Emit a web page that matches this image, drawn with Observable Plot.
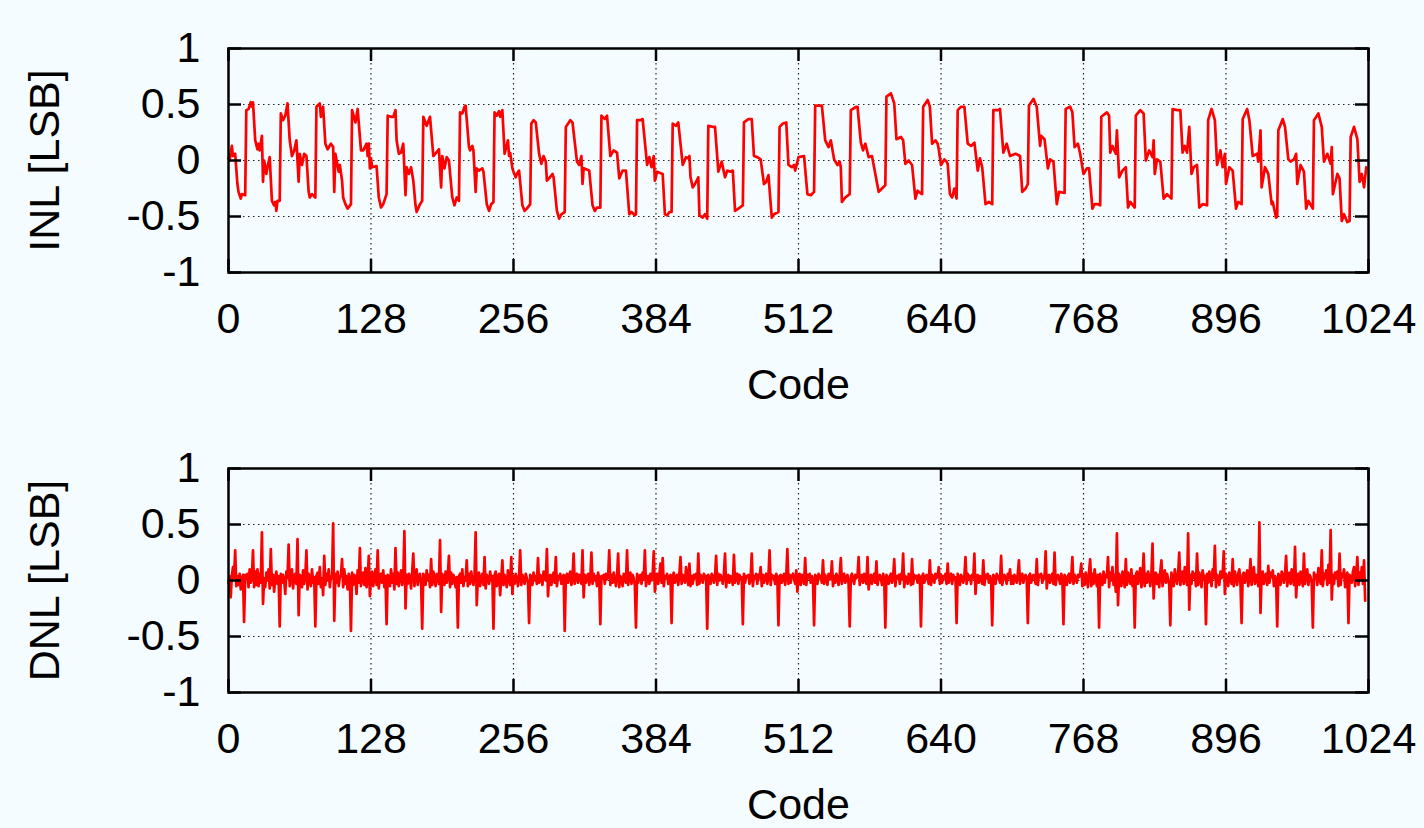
<!DOCTYPE html>
<html><head><meta charset="utf-8">
<script src="https://cdn.jsdelivr.net/npm/d3@7"></script>
<script src="https://cdn.jsdelivr.net/npm/@observablehq/plot@0.6"></script>
<style>
html,body{margin:0;padding:0;background:#f4fcff;overflow:hidden;}
#chart svg{display:block;}
</style></head><body><div id="chart"></div>
<script>
const xTicks = [0,128,256,384,512,640,768,896,1024];
const xTickLabels = ["0","128","256","384","512","640","768","896","1024"];
const yTicks = [-1,-0.5,0,0.5,1];
const yTickLabels = ["-1","-0.5","0","0.5","1"];
const xGrid = [128,256,384,512,640,768,896];
const yGrid = [-0.5,0,0.5];
const xLabel = "Code";
const inlLabel = "INL [LSB]";
const dnlLabel = "DNL [LSB]";

// INL: [code, value] vertices
const inlPoints = [
[0,0.02],[1,0.0],[3,0.13],[4,0.04],[6,0.06],[8,-0.21],[9,-0.28],[11,-0.34],[12,-0.30],[15,-0.31],[16,0.45],[18,0.46],[20,0.52],[21,0.48],[22,0.52],[24,0.18],[26,0.10],[27,0.15],[28,0.09],[30,0.22],[31,-0.19],
[32,0.0],[34,-0.12],[35,-0.06],[37,0.03],[39,-0.36],[41,-0.40],[42,-0.37],[43,-0.45],[44,-0.36],[46,-0.36],[47,0.42],[49,0.36],[51,0.40],[53,0.51],[55,0.18],[57,0.04],[59,0.09],[61,0.18],[63,-0.19],
[64,0.06],[66,-0.04],[68,0.06],[70,0.04],[72,-0.28],[73,-0.33],[75,-0.30],[78,-0.33],[79,0.48],[82,0.51],[83,0.39],[85,0.48],[87,0.15],[89,0.10],[92,0.15],[94,0.12],[95,-0.28],
[96,0.06],[99,-0.10],[100,-0.04],[102,-0.18],[103,-0.33],[105,-0.39],[107,-0.43],[110,-0.39],[111,0.45],[114,0.34],[116,0.46],[119,0.09],[121,0.09],[124,0.15],[125,0.04],[126,0.15],[127,-0.07],
[128,0.02],[129,-0.06],[133,-0.05],[135,-0.33],[137,-0.42],[139,-0.39],[142,-0.30],[143,0.40],[146,0.39],[148,0.39],[150,0.45],[151,0.18],[153,0.06],[155,0.07],[157,0.15],[159,-0.31],
[160,-0.06],[162,-0.12],[164,-0.06],[166,-0.18],[168,-0.40],[169,-0.46],[172,-0.39],[174,-0.36],[175,0.39],[178,0.31],[181,0.39],[184,0.04],[189,0.10],[191,-0.24],
[192,0.04],[194,-0.07],[196,0.03],[198,0.0],[201,-0.33],[203,-0.40],[205,-0.33],[207,-0.36],[208,0.43],[210,0.42],[212,0.48],[213,0.49],[216,0.12],[217,0.09],[219,0.13],[220,0.09],[222,-0.28],
[223,-0.07],[225,-0.09],[228,-0.07],[229,-0.10],[232,-0.39],[233,-0.42],[234,-0.45],[236,-0.39],[238,-0.37],[239,0.43],[241,0.40],[243,0.44],[244,0.39],[246,0.45],[248,0.06],[251,0.18],[252,0.04],[253,0.07],
[255,-0.07],[256,-0.10],[258,-0.15],[259,-0.12],[261,-0.09],[264,-0.40],[266,-0.45],[268,-0.43],[271,-0.39],[272,0.33],[274,0.36],[276,0.34],[279,0.06],[281,-0.03],[283,0.04],[285,-0.01],[286,-0.18],
[288,-0.16],[291,-0.12],[292,-0.15],[295,-0.45],[297,-0.52],[299,-0.48],[302,-0.46],[303,0.30],[307,0.36],[309,0.34],[313,-0.01],[315,-0.04],[317,0.04],[318,-0.21],
[319,-0.07],[324,-0.09],[327,-0.40],[329,-0.45],[331,-0.42],[334,-0.42],[335,0.40],[338,0.37],[340,0.40],[343,0.04],[346,0.09],[349,0.07],[351,-0.16],
[354,-0.09],[357,-0.09],[360,-0.48],[362,-0.46],[365,-0.49],[366,-0.48],[367,0.36],[370,0.36],[372,0.37],[376,-0.04],[378,0.03],[380,-0.06],[382,0.04],[383,-0.18],
[385,-0.10],[390,-0.12],[392,-0.48],[394,-0.49],[396,-0.46],[398,-0.46],[399,0.33],[402,0.31],[404,0.34],[408,-0.04],[411,0.03],[413,0.02],[414,0.04],[415,-0.15],
[417,-0.24],[419,-0.21],[422,-0.15],[423,-0.49],[426,-0.51],[428,-0.48],[430,-0.52],[431,0.31],[435,0.30],[437,0.30],[440,-0.10],[443,-0.01],[446,-0.15],
[448,-0.09],[451,-0.10],[453,-0.09],[455,-0.45],[458,-0.43],[462,-0.40],[463,0.34],[467,0.37],[470,0.37],[472,0.04],[475,0.03],[478,0.01],[481,-0.21],
[483,-0.19],[485,-0.13],[488,-0.51],[490,-0.48],[494,-0.46],[495,0.30],[498,0.33],[501,0.34],[503,-0.04],[506,-0.06],[508,-0.04],[509,-0.09],
[512,0.03],[517,0.04],[520,-0.30],[523,-0.31],[526,-0.28],[527,0.49],[532,0.49],[533,0.49],[536,0.18],[539,0.12],[541,0.18],
[544,0.01],[547,-0.04],[549,-0.01],[550,-0.06],[551,-0.37],[554,-0.33],[558,-0.30],[559,0.45],[564,0.48],[565,0.48],[568,0.16],[570,0.09],[572,0.15],
[575,0.03],[578,0.04],[584,-0.28],[587,-0.25],[590,-0.22],[591,0.57],[595,0.60],[598,0.51],[600,0.19],[604,0.21],[606,0.18],
[608,-0.03],[611,0.0],[614,-0.04],[617,-0.34],[619,-0.27],[620,-0.28],[623,-0.30],[624,0.48],[626,0.51],[628,0.54],[630,0.48],[632,0.15],[635,0.18],[637,0.15],[638,0.10],
[640,-0.04],[643,0.01],[645,-0.01],[646,-0.03],[648,-0.30],[650,-0.33],[652,-0.25],[654,-0.34],[655,0.45],[658,0.48],[661,0.48],[664,0.15],[667,0.13],[670,0.16],
[673,-0.09],[675,0.02],[677,-0.06],[680,-0.39],[683,-0.37],[686,-0.39],[687,0.45],[691,0.45],[693,0.46],[696,0.07],[699,0.15],[702,0.04],
[707,0.06],[711,0.04],[713,-0.28],[716,-0.25],[718,-0.21],[719,0.49],[723,0.55],[726,0.48],[729,0.13],[730,0.22],[733,0.19],
[736,-0.07],[738,0.01],[741,-0.01],[744,-0.39],[746,-0.28],[751,-0.29],[752,0.46],[756,0.48],[758,0.43],[760,0.12],[763,0.15],[765,0.06],
[768,-0.12],[771,-0.07],[773,-0.07],[776,-0.43],[778,-0.39],[781,-0.39],[783,-0.40],[784,0.39],[789,0.43],[791,0.40],[792,0.07],[794,0.13],[797,0.06],[798,0.27],
[800,-0.15],[803,-0.09],[806,-0.06],[808,-0.42],[810,-0.37],[814,-0.42],[815,0.40],[819,0.45],[822,0.42],[824,0.0],[827,0.09],[830,0.03],[831,0.18],
[832,-0.12],[834,0.01],[837,-0.01],[840,-0.34],[843,-0.30],[847,-0.34],[848,0.46],[852,0.45],[855,0.45],[857,0.07],[859,0.13],[861,0.07],[863,0.30],
[865,-0.12],[867,-0.06],[870,-0.04],[872,-0.42],[875,-0.39],[879,-0.40],[880,0.36],[883,0.46],[886,0.36],[888,-0.04],[891,0.09],[893,-0.06],[895,0.06],
[896,-0.21],[899,-0.06],[902,-0.09],[905,-0.43],[907,-0.37],[910,-0.39],[911,0.37],[915,0.46],[917,0.36],[920,0.04],[924,0.06],[925,-0.01],[927,0.27],
[928,-0.24],[931,-0.06],[934,-0.12],[937,-0.39],[938,-0.37],[941,-0.51],[942,-0.50],[943,0.27],[947,0.37],[949,0.30],[952,0.01],[954,-0.01],[957,0.01],[959,0.06],
[960,-0.21],[963,-0.04],[966,-0.10],[968,-0.43],[970,-0.36],[974,-0.43],[975,0.36],[979,0.42],[982,0.30],[984,-0.01],[987,0.06],[990,-0.03],[991,0.12],
[992,-0.30],[996,-0.12],[998,-0.16],[1000,-0.54],[1002,-0.48],[1005,-0.55],[1007,-0.54],[1008,0.21],[1011,0.30],[1014,0.19],[1016,-0.19],[1018,-0.12],[1020,-0.24],[1022,-0.06]
];

// DNL: one value per code (0..1021), 32 codes per row
const dnlValues = [
-0.02,0.04,-0.15,0.04,0.12,0.02,0.27,-0.05,0.04,-0.04,0.06,-0.08,0.02,0.05,-0.37,0.05,0.02,0.06,-0.06,0.1,-0.02,0.03,0.27,-0.06,0.08,-0.04,0.1,-0.05,0.06,-0.02,0.43,-0.21,
0.02,-0.06,0.07,0.0,0.1,-0.07,0.28,-0.04,0.05,-0.1,0.03,0.08,-0.03,0.04,-0.41,0.06,-0.02,0.05,0.0,-0.12,0.08,0.02,0.32,-0.05,0.04,0.1,-0.07,0.03,0.06,-0.03,0.37,-0.31,
0.05,0.03,-0.06,0.09,-0.03,0.04,0.27,-0.08,0.06,0.02,-0.05,0.1,-0.02,0.03,-0.41,0.04,0.07,-0.03,0.12,-0.06,0.02,-0.13,0.22,-0.04,0.06,0.0,0.1,-0.06,0.04,0.02,0.51,-0.36,
0.06,-0.02,0.08,-0.05,0.03,0.05,0.19,-0.06,0.1,-0.03,0.04,-0.08,0.06,0.02,-0.45,0.07,-0.04,0.05,0.03,-0.12,0.09,-0.02,0.29,-0.05,0.03,0.07,-0.04,0.11,-0.06,0.02,0.22,-0.14,
0.04,0.08,-0.05,0.02,0.1,-0.04,0.27,-0.07,0.03,0.06,-0.02,0.09,-0.06,0.04,-0.39,0.05,0.03,-0.05,0.1,-0.02,0.06,-0.08,0.29,-0.03,0.07,-0.05,0.04,0.09,-0.04,0.03,0.44,-0.25,
0.05,-0.03,0.06,0.02,-0.07,0.08,0.24,-0.05,0.04,0.1,-0.04,0.02,0.06,-0.02,-0.43,0.06,0.02,-0.04,0.09,0.0,0.05,-0.06,0.19,-0.04,0.08,0.02,-0.05,0.06,0.04,-0.03,0.36,-0.28,
0.06,0.02,-0.04,0.08,-0.02,0.05,0.22,-0.06,0.07,-0.03,0.05,0.02,-0.06,0.03,-0.42,0.04,0.06,-0.02,0.1,-0.05,0.03,0.0,0.18,-0.05,0.06,-0.03,0.08,0.02,-0.04,0.05,0.43,-0.22,
0.03,0.07,-0.05,0.02,0.06,-0.04,0.21,-0.07,0.05,0.02,-0.03,0.08,0.0,0.04,-0.43,0.05,0.08,-0.05,0.03,0.06,-0.13,0.02,0.18,-0.04,0.05,0.0,-0.06,0.09,0.03,-0.04,0.21,-0.12,
0.04,-0.03,0.06,0.02,-0.05,0.03,0.27,-0.04,0.05,0.01,-0.03,0.06,0.02,-0.02,-0.38,0.05,0.03,-0.04,0.07,0.0,0.04,-0.03,0.2,-0.02,0.05,0.03,-0.04,0.08,0.02,0.0,0.28,-0.14,
0.03,0.05,-0.04,0.04,0.07,-0.02,0.21,-0.05,0.04,0.02,0.06,-0.03,0.03,0.05,-0.45,0.03,0.06,-0.02,0.04,0.08,-0.04,0.02,0.24,-0.03,0.04,0.06,-0.02,0.05,0.03,-0.03,0.27,-0.15,
0.05,-0.02,0.03,0.06,-0.04,0.02,0.25,-0.03,0.06,0.0,0.04,-0.05,0.07,0.02,-0.39,0.04,0.02,0.05,-0.03,0.06,0.01,0.03,0.27,-0.04,0.05,-0.02,0.07,0.02,-0.05,0.04,0.24,-0.06,
0.04,0.02,-0.05,0.06,0.03,-0.02,0.27,-0.04,0.03,0.07,-0.03,0.05,0.02,-0.04,-0.42,0.06,-0.02,0.04,0.05,-0.03,0.07,0.01,0.27,-0.05,0.03,0.04,-0.03,0.06,0.0,0.05,0.26,-0.1,
0.02,0.06,-0.03,0.04,0.15,-0.02,0.2,-0.05,0.04,0.02,0.06,-0.03,0.03,0.05,-0.38,0.04,0.07,-0.02,0.03,0.05,-0.04,0.06,0.21,-0.03,0.05,0.02,-0.02,0.12,0.03,-0.04,0.15,-0.05,
0.04,-0.03,0.05,0.02,0.06,-0.04,0.24,-0.03,0.05,0.03,-0.02,0.06,0.02,0.04,-0.43,0.05,0.02,-0.03,0.06,0.04,-0.02,0.03,0.22,-0.04,0.06,0.0,0.05,0.02,-0.03,0.06,0.24,-0.06,
0.03,0.05,-0.02,0.04,0.02,-0.04,0.23,-0.02,0.04,0.06,-0.03,0.05,0.01,0.03,-0.39,0.06,-0.02,0.04,0.03,0.05,-0.03,0.02,0.24,-0.05,0.04,0.02,0.06,-0.03,0.05,0.02,0.12,-0.05,
0.05,-0.02,0.04,0.06,-0.03,0.03,0.27,-0.04,0.05,0.02,0.04,-0.03,0.06,0.02,-0.40,0.04,0.05,-0.02,0.03,0.06,-0.04,0.04,0.28,-0.03,0.05,-0.02,0.04,0.06,0.02,-0.03,0.09,-0.1,
0.03,0.06,-0.04,0.05,0.02,-0.03,0.2,-0.04,0.05,0.02,0.06,-0.02,0.04,0.01,-0.4,0.05,0.03,-0.03,0.06,0.02,0.04,-0.02,0.18,-0.03,0.05,0.02,-0.04,0.06,0.03,0.01,0.17,-0.05,
0.04,-0.02,0.06,0.03,-0.04,0.05,0.2,-0.03,0.04,0.06,-0.02,0.03,0.05,-0.03,-0.41,0.04,0.06,0.01,-0.03,0.05,0.02,0.04,0.21,-0.04,0.03,0.05,-0.02,0.06,0.02,-0.03,0.21,-0.08,
0.02,0.05,-0.03,0.04,0.06,-0.02,0.17,-0.04,0.03,0.05,0.02,-0.04,0.06,0.02,-0.42,0.05,0.02,-0.03,0.04,0.06,-0.02,0.03,0.19,-0.05,0.04,0.02,0.05,-0.03,0.06,0.01,0.24,-0.06,
0.04,0.02,-0.03,0.06,0.03,-0.04,0.19,-0.03,0.05,0.02,0.04,-0.02,0.05,0.03,-0.41,0.04,0.06,-0.02,0.03,0.05,0.01,-0.03,0.18,-0.04,0.05,0.03,-0.02,0.06,0.02,0.04,0.12,-0.03,
0.05,-0.02,0.04,0.02,0.06,-0.03,0.15,-0.02,0.04,0.06,-0.03,0.05,0.02,0.03,-0.38,0.06,0.02,-0.04,0.05,0.03,-0.02,0.04,0.21,-0.03,0.06,0.02,0.04,-0.03,0.05,0.02,0.24,-0.12,
0.03,0.05,-0.02,0.04,0.03,-0.03,0.18,-0.04,0.05,0.02,0.06,-0.02,0.04,0.01,-0.4,0.05,0.03,-0.03,0.06,0.02,0.04,-0.02,0.22,-0.04,0.03,0.05,0.02,-0.03,0.06,0.02,0.1,-0.03,
0.04,-0.03,0.05,0.03,-0.02,0.06,0.18,-0.03,0.04,0.06,-0.02,0.03,0.05,0.02,-0.38,0.04,0.06,-0.02,0.03,0.05,0.02,-0.03,0.19,-0.04,0.05,0.03,0.06,-0.02,0.04,0.02,0.26,-0.07,
0.03,0.05,-0.02,0.04,0.06,-0.03,0.25,-0.04,0.03,0.05,0.02,-0.03,0.06,0.02,-0.39,0.05,0.02,-0.04,0.04,0.06,-0.02,0.03,0.21,-0.03,0.05,0.02,-0.02,0.05,0.03,0.06,0.15,-0.05,
0.05,-0.04,0.07,0.02,-0.06,0.08,0.19,-0.05,0.06,-0.03,0.1,0.02,-0.05,0.05,-0.42,0.06,0.02,-0.04,0.08,-0.02,0.05,0.03,0.21,-0.06,0.07,0.0,0.12,-0.04,0.05,-0.1,0.42,-0.22,
0.06,0.02,-0.05,0.08,0.03,-0.06,0.19,-0.04,0.07,0.02,-0.03,0.1,-0.05,0.04,-0.42,0.05,0.08,-0.03,0.04,0.11,-0.06,0.02,0.24,-0.05,0.06,-0.02,0.08,0.03,-0.05,0.06,0.33,-0.16,
0.04,0.07,-0.03,0.05,-0.06,0.08,0.18,-0.05,0.04,0.09,-0.02,0.06,0.02,-0.04,-0.4,0.07,0.02,-0.05,0.1,0.03,-0.03,0.06,0.25,-0.04,0.05,0.08,-0.03,0.12,0.02,-0.04,0.42,-0.26,
0.05,-0.03,0.08,0.02,0.06,-0.05,0.24,-0.04,0.07,0.03,-0.06,0.09,0.02,0.04,-0.39,0.06,-0.02,0.08,0.03,-0.05,0.1,0.02,0.31,-0.06,0.05,0.03,-0.04,0.08,0.02,0.05,0.26,-0.12,
0.06,0.02,-0.05,0.07,0.04,-0.03,0.19,-0.05,0.08,0.02,-0.04,0.06,0.1,-0.03,-0.38,0.05,0.07,-0.02,0.04,0.09,-0.05,0.03,0.19,-0.04,0.06,0.12,-0.03,0.05,0.02,-0.05,0.52,-0.29,
0.05,0.08,-0.03,0.04,0.06,-0.04,0.13,-0.02,0.07,0.03,0.09,-0.05,0.04,0.02,-0.41,0.06,0.03,-0.04,0.08,0.05,-0.02,0.06,0.22,-0.05,0.04,0.07,-0.03,0.1,0.02,-0.04,0.3,-0.15,
0.04,0.06,-0.04,0.08,0.02,-0.05,0.24,-0.03,0.06,0.1,-0.04,0.05,0.03,-0.02,-0.42,0.07,0.02,0.05,-0.04,0.11,0.03,-0.03,0.27,-0.05,0.06,0.02,0.09,-0.04,0.14,-0.02,0.45,-0.17,
0.05,-0.03,0.07,0.02,0.08,-0.05,0.24,-0.04,0.06,0.03,0.1,-0.06,0.04,0.07,-0.38,0.05,0.03,-0.02,0.08,0.12,-0.05,0.06,0.21,-0.04,0.07,0.02,0.12,-0.03,0.18,-0.18
];

const W = 1424, ML = 228, MR = 56, FRAME_H = 224, FRAME_W = W - ML - MR, TICK = 13;
const FONT = "'Liberation Sans', Arial, Helvetica, sans-serif";
const BG = "#f4fcff";
const FS = 43;

function panel({data, x, y, yLabel, height, marginTop}) {
  const marginBottom = height - marginTop - FRAME_H;
  const tickStyle = {stroke: "#000", strokeWidth: 2.5};
  return Plot.plot({
    width: W, height, marginLeft: ML, marginRight: MR, marginTop, marginBottom,
    style: {background: BG, fontFamily: FONT, fontSize: FS + "px", color: "#000"},
    x: {domain: [0, 1024]},
    y: {domain: [-1, 1]},
    marks: [
      Plot.ruleY(yGrid, {y: d => d, stroke: "#222", strokeWidth: 1.2, strokeDasharray: "1.5,3.5"}),
      Plot.ruleX(xGrid, {x: d => d, stroke: "#222", strokeWidth: 1.2, strokeDasharray: "1.5,3.5"}),
      Plot.line(data, {x, y, stroke: "#ff0000", strokeWidth: 2.7, strokeLinejoin: "round"}),
      Plot.frame({stroke: "#000", strokeWidth: 2.5}),
      Plot.tickY(yTicks, {y: d => d, insetRight: FRAME_W - TICK, ...tickStyle}),
      Plot.tickY(yTicks, {y: d => d, insetLeft: FRAME_W - TICK, ...tickStyle}),
      Plot.tickX(xTicks, {x: d => d, insetTop: FRAME_H - TICK, ...tickStyle}),
      Plot.tickX(xTicks, {x: d => d, insetBottom: FRAME_H - TICK, ...tickStyle}),
      Plot.axisX({ticks: xTicks, tickSize: 0, tickPadding: 30, fontSize: FS, tickFormat: d => xTickLabels[xTicks.indexOf(d)], label: null}),
      Plot.axisY({ticks: yTicks, tickSize: 0, tickPadding: 28, fontSize: FS, tickFormat: d => yTickLabels[yTicks.indexOf(d)], label: null}),
      Plot.text([xLabel], {text: d => d, frameAnchor: "bottom", dy: 126, lineAnchor: "bottom", fontSize: FS}),
      Plot.text([yLabel], {text: d => d, frameAnchor: "left", dx: -170, rotate: -90, textAnchor: "middle", lineAnchor: "bottom", fontSize: FS})
    ]
  });
}

const chart = document.getElementById("chart");
chart.appendChild(panel({data: inlPoints, x: d => d[0], y: d => d[1], yLabel: inlLabel, height: 414, marginTop: 48}));
chart.appendChild(panel({data: dnlValues, x: (d, i) => i, y: d => d, yLabel: dnlLabel, height: 414, marginTop: 54}));
</script>
</body></html>
